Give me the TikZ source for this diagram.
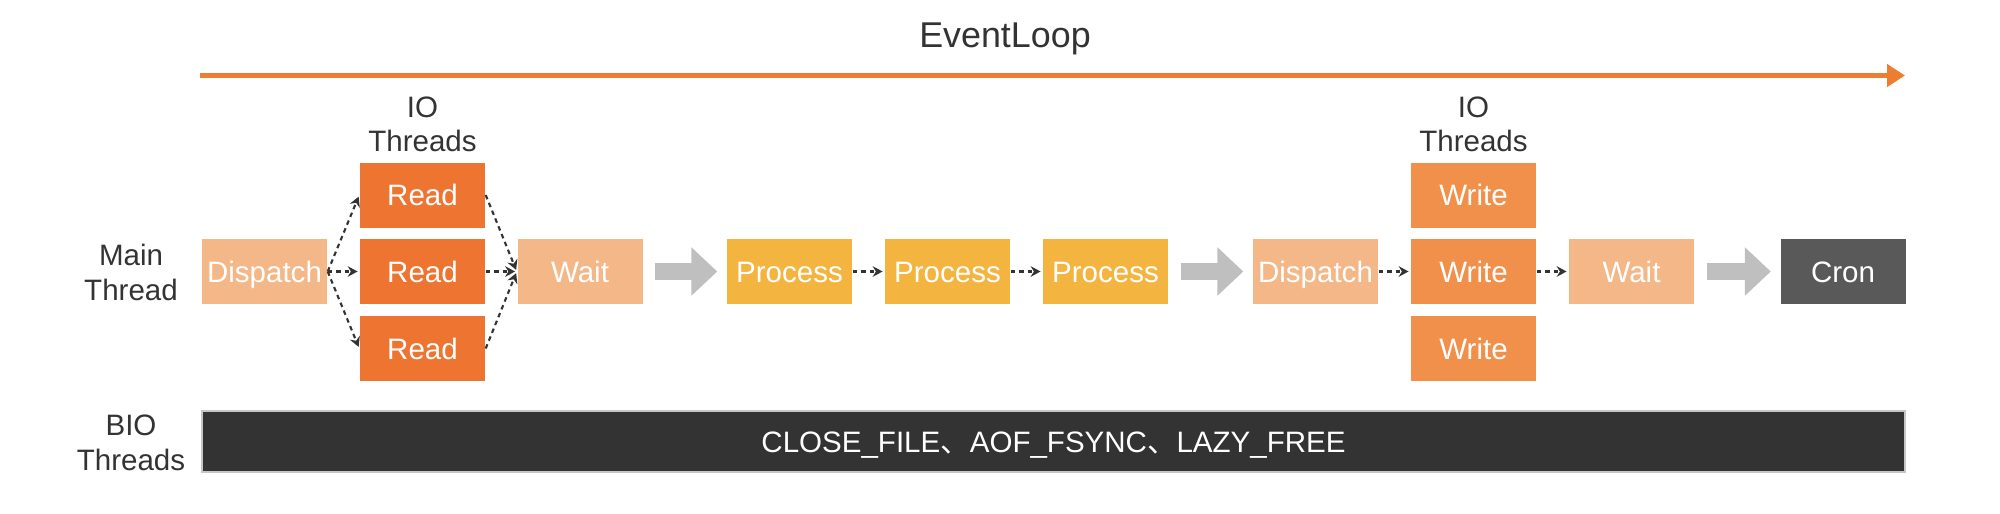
\documentclass[tikz,border=0pt]{standalone}
\usepackage{fontspec}
\setmainfont{Liberation Sans}
\newfontfamily\cjkfont{Noto Sans CJK SC}
\usetikzlibrary{arrows.meta}
\definecolor{loopclr}{HTML}{ED7D31}
\definecolor{readclr}{HTML}{ED7431}
\definecolor{writeclr}{HTML}{F0904B}
\definecolor{peachclr}{HTML}{F4B787}
\definecolor{procclr}{HTML}{F4B440}
\definecolor{cronclr}{HTML}{595959}
\definecolor{barclr}{HTML}{333333}
\definecolor{grayarrow}{HTML}{BFBFBF}
\definecolor{txtclr}{HTML}{333333}
\begin{document}
\begin{tikzpicture}[
    box/.style={minimum width=1.25cm, minimum height=0.65cm, inner sep=0pt, text=white, text height=6pt, text depth=0pt, font=\fontsize{8.4}{10}\selectfont},
    readbox/.style={box, fill=readclr},
    writebox/.style={box, fill=writeclr},
    peachbox/.style={box, fill=peachclr},
    procbox/.style={box, fill=procclr},
    cronbox/.style={box, fill=cronclr},
    barbox/.style={box, fill=barclr, draw=gray!45, line width=0.4pt, minimum width=17.03cm, minimum height=0.61cm},
    sidetext/.style={text=txtclr, align=center, inner sep=0pt, font=\fontsize{8.4}{9.6}\selectfont},
    looparrow/.style={draw=loopclr, line width=1.4pt, -{Triangle[length=0.18cm,width=0.22cm]}},
    dots/.style={draw=txtclr, line width=0.6pt, dash pattern=on 1.3pt off 1.1pt, -{Stealth[length=2.8pt,width=3pt]}, shorten >=0.5pt},
    bigarrow/.style={draw=grayarrow, line width=0.17cm, -{Triangle[length=0.26cm,width=0.47cm]}, shorten <=0.12cm, shorten >=0.09cm}
  ]
  \useasboundingbox (0,0) rectangle (20,5.13);
  \node[sidetext, font=\fontsize{10.2}{12}\selectfont, anchor=base] (loop) at (10.05,4.66) {EventLoop};
  \coordinate (loopstart) at (2.00,4.375);
  \coordinate (loopend) at (19.05,4.375);
  \draw[looparrow] (loopstart) -- (loopend);

  \node[sidetext] (ioleft) at (4.225,3.89) {IO\\Threads};
  \node[sidetext] (ioright) at (14.735,3.89) {IO\\Threads};
  \node[sidetext, font=\fontsize{8.4}{10}\selectfont] (mainlbl) at (1.31,2.405) {Main\\Thread};
  \node[sidetext, font=\fontsize{8.4}{10}\selectfont] (biolbl) at (1.31,0.705) {BIO\\Threads};

  \node[peachbox] (dispA) at (2.645,2.415) {Dispatch};
  \node[readbox] (readA) at (4.225,3.18) {Read};
  \node[readbox] (readB) at (4.225,2.415) {Read};
  \node[readbox] (readC) at (4.225,1.645) {Read};
  \node[peachbox] (waitA) at (5.80,2.415) {Wait};
  \node[procbox] (procA) at (7.895,2.415) {Process};
  \node[procbox] (procB) at (9.475,2.415) {Process};
  \node[procbox] (procC) at (11.055,2.415) {Process};
  \node[peachbox] (dispB) at (13.155,2.415) {Dispatch};
  \node[writebox] (writeA) at (14.735,3.18) {Write};
  \node[writebox] (writeB) at (14.735,2.415) {Write};
  \node[writebox] (writeC) at (14.735,1.645) {Write};
  \node[peachbox] (waitB) at (16.315,2.415) {Wait};
  \node[cronbox] (cron) at (18.43,2.415) {Cron};

  \foreach \r in {readA,readB,readC} {
    \draw[dots] (dispA.east) -- (\r.west);
    \draw[dots] (\r.east) -- (waitA.west);
  }
  \draw[dots] (procA) -- (procB);
  \draw[dots] (procB) -- (procC);
  \draw[dots] (dispB) -- (writeB);
  \draw[dots] (writeB) -- (waitB);

  \draw[bigarrow] (waitA) -- (procA);
  \draw[bigarrow] (procC) -- (dispB);
  \draw[bigarrow] (waitB) -- (cron);

  \node[barbox] (bio) at (10.535,0.715) {CLOSE\_FILE{\cjkfont 、}AOF\_FSYNC{\cjkfont 、}LAZY\_FREE};
\end{tikzpicture}
\end{document}
